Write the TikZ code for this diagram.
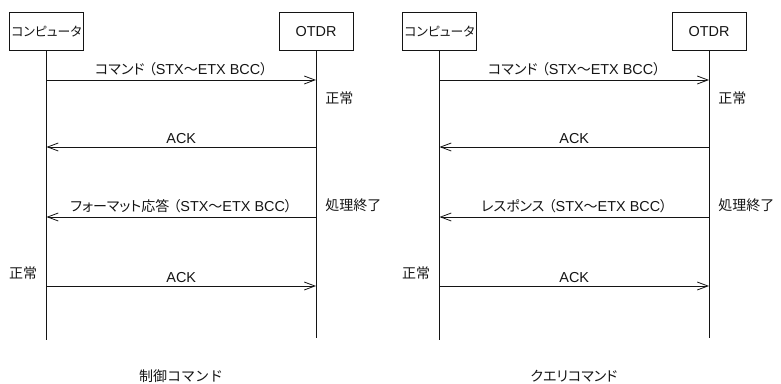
\documentclass[tikz,border=0pt]{standalone}
\usepackage{fontspec}
\setmainfont[Scale=1.03]{Liberation Sans}
\newfontfamily\jpfont[RawFeature=+palt]{Noto Sans CJK JP}
\newfontfamily\jpwide{Noto Sans CJK JP}
\newcommand{\jp}[1]{{\jpfont #1}}
\usetikzlibrary{positioning, arrows.meta}
\definecolor{inkblack}{RGB}{20,20,20}
% one sequence panel: #1 prefix, #2 x offset, #3 reply label, #4 caption
\newcommand{\seqpanel}[4]{
  \begin{scope}[shift={(#2,0)}]
    \node[actor, font=\fontsize{9.6}{11}\selectfont] (#1pc) at (46.5,31.5) {\jp{コンピュータ}};
    \node[actor] (#1otdr) at (316,31.5) {OTDR};
    \coordinate (#1pcend) at (46.5,340);
    \coordinate (#1otdrend) at (316,338);
    \draw[life] (#1pc) -- (#1pcend);
    \draw[life] (#1otdr) -- (#1otdrend);
    \foreach \n/\y in {1/80,2/147,3/217,4/286} {
      \coordinate (#1p\n) at (#1pc |- 0,\y);
      \coordinate (#1o\n) at (#1otdr |- 0,\y);
    }
    \draw[msg] (#1p1) -- node[lbl, above] {\jp{コマンド\hspace{0.3em}（}STX\jp{〜}ETX BCC\jp{）}} (#1o1);
    \draw[msg] (#1o2) -- node[lbl, above] {ACK} (#1p2);
    \draw[msg] (#1o3) -- node[lbl, above] {\jp{#3\hspace{0.3em}（}STX\jp{〜}ETX BCC\jp{）}} (#1p3);
    \draw[msg] (#1p4) -- node[lbl, above] {ACK} (#1o4);
    \node[note, anchor=west] (#1ok) at ([shift={(9,18)}]#1o1) {\jp{正常}};
    \node[note, anchor=west] (#1done) at ([shift={(9,-12)}]#1o3) {\jp{処理終了}};
    \node[note, anchor=east] (#1ack) at ([shift={(-9,-13)}]#1p4) {\jp{正常}};
    \node[note] (#1cap) at (181,376) {#4};
  \end{scope}
}

\begin{document}
\begin{tikzpicture}[
    x=0.75pt, y=-0.75pt,
    font=\fontsize{10.5}{12}\selectfont,
    every node/.style={text=inkblack},
    actor/.style={draw=inkblack, line width=0.6pt, minimum width=55.5pt, minimum height=29pt, inner sep=0pt},
    life/.style={draw=inkblack, line width=0.6pt},
    msg/.style={draw=inkblack, line width=0.6pt, -{Straight Barb[length=8pt,width=6pt]}},
    lbl/.style={inner sep=2.5pt},
    note/.style={inner sep=0pt},
]
\useasboundingbox (0,0) rectangle (781,384);

% ------------------------------------------------------ control command ---
\seqpanel{c}{0}{フォーマット応答}{\jpwide 制御コマンド}

% -------------------------------------------------------- query command ---
\seqpanel{q}{393}{レスポンス}{\jpfont クエリコマンド}

\end{tikzpicture}
\end{document}
